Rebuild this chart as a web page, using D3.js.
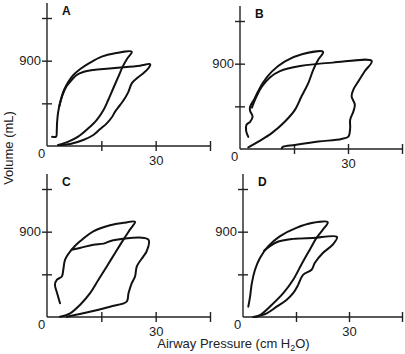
<!DOCTYPE html>
<html><head><meta charset="utf-8">
<script src="https://cdn.jsdelivr.net/npm/d3@7/dist/d3.min.js"></script>
<style>body{margin:0;background:#fff}svg{display:block}</style>
</head><body>
<svg id="c" width="405" height="354"></svg>
<script>
// ---------- data: [pressure cm H2O, volume mL] ----------
const xTicks = [15, 30, 45];
const xTickLabels = {30: "30"};
const yTicks = [450, 900, 1350];
const yTickLabels = {900: "900"};
const panelLetters = ["A", "B", "C", "D"];

const A_loop1 = [[1.4,98],[2.5,98],[2.7,169],[2.8,257],[3.1,362],[3.8,485],[4.7,591],[5.9,678],[7.3,749],[9.1,809],[11.9,879],[15.1,942],[18.8,978],[23.4,995],
  [22.2,925],[20.9,837],[19.7,731],[18.3,609],[16.9,485],[15.6,380],[13.7,274],[11.4,186],[8.6,98],[5.9,46],[3.1,10]];
const A_loop2 = [[3.1,10],[6.4,21],[10.0,63],[12.8,116],[14.6,176],[16.5,239],[17.9,303],[18.8,362],[20.2,433],[21.5,503],[22.5,573],[23.4,661],[24.8,714],[26.6,767],[28.0,820],[28.5,862],
  [25.7,847],[21.1,830],[16.5,816],[12.8,802],[10.0,781],[8.2,749],[6.8,696],[5.4,630],[4.3,540],[3.4,420]];

const B_loop1 = [[2.3,128],[1.7,191],[1.8,255],[2.8,287],[3.5,340],[2.8,404],[2.8,446],[3.9,521],[5.0,606],[6.4,702],[8.9,819],[12.5,925],[17.2,999],[23.1,1024],
  [21.8,946],[20.4,840],[19.0,698],[17.1,556],[15.3,415],[12.5,290],[8.8,167],[5.1,78],[2.3,18]];
const B_loop2 = [[3.3,436],[4.6,556],[6.1,659],[8.3,755],[11.1,822],[16.7,875],[25.8,911],[36.6,928],
  [34.7,822],[32.9,715],[31.5,627],[31.0,556],[31.9,468],[31.5,397],[30.6,308],[30.6,220],[30.1,131],[28.2,106],[21.8,78],[15.3,43],[12.0,24],[11.6,7]];

const C_loop1 = [[3.6,145],[2.8,251],[2.2,339],[2.7,392],[4.1,427],[4.5,498],[5.0,604],[6.8,710],[9.1,798],[12.8,904],[17.4,968],[21.1,993],[24.3,1004],
  [22.9,922],[21.1,816],[18.8,675],[16.5,533],[14.2,392],[11.9,251],[9.1,127],[6.4,39],[3.6,3]];
const C_loop2 = [[6.8,710],[9.1,728],[12.8,763],[15.6,774],[18.3,809],[28.0,816],
  [27.5,692],[26.6,639],[24.8,533],[24.3,427],[23.4,357],[22.5,251],[22.0,162],[17.4,109],[10.0,39],[5.4,3]];

const D_loop1 = [[1.5,109],[2.0,215],[2.5,357],[3.4,498],[4.8,622],[7.1,745],[10.4,851],[15.1,940],[19.8,993],[24.0,1000],
  [22.6,922],[20.8,834],[18.9,710],[16.5,551],[14.2,392],[11.4,251],[8.1,127],[4.8,21],[2.9,0]];
const D_loop2 = [[6.0,700],[9.5,788],[14.2,824],[19.8,834],[26.6,845],
  [25.4,763],[22.6,675],[20.3,569],[19.4,498],[17.0,445],[15.6,339],[14.2,251],[12.3,180],[9.5,109],[6.7,39],[3.4,0]];

const panelLoops = [[A_loop1, A_loop2],[B_loop1, B_loop2],[C_loop1, C_loop2],[D_loop1, D_loop2]];

// ---------- layout ----------
const layout = [
  {ox: 47, oy: 146, w: 163},
  {ox: 240, oy: 149, w: 162},
  {ox: 47, oy: 317, w: 163},
  {ox: 243, oy: 317, w: 159}
];
const H = 128, axisTop = 143;
const font = "'Liberation Sans', Arial, Helvetica, sans-serif";
const svg = d3.select("#c");

layout.forEach((L, i) => {
  const x = d3.scaleLinear().domain([0, 45]).range([L.ox, L.ox + L.w]);
  const y = d3.scaleLinear().domain([0, 1350]).range([L.oy, L.oy - H]);
  const g = svg.append("g");

  // y axis line
  g.append("line").attr("x1", L.ox).attr("x2", L.ox).attr("y1", L.oy).attr("y2", L.oy - axisTop)
    .attr("stroke", "#222").attr("stroke-width", 1.4);
  // x axis line
  g.append("line").attr("x1", L.ox).attr("x2", x(45)).attr("y1", L.oy).attr("y2", L.oy)
    .attr("stroke", "#222").attr("stroke-width", 1.4);

  const ya = d3.axisLeft(y).tickValues(yTicks).tickFormat(d => yTickLabels[d] || "").tickSize(5).tickPadding(2);
  const yg = g.append("g").attr("transform", `translate(${L.ox},0)`).call(ya);
  yg.select(".domain").remove();
  yg.selectAll(".tick line").attr("x1", -5).attr("x2", 5).attr("stroke", "#222").attr("stroke-width", 1.4);
  yg.selectAll(".tick text").attr("x", -6).attr("font-family", font).attr("font-size", 13).attr("fill", "#222");

  const xa = d3.axisBottom(x).tickValues(xTicks).tickFormat(d => xTickLabels[d] || "").tickSize(5);
  const xg = g.append("g").attr("transform", `translate(0,${L.oy})`).call(xa);
  xg.select(".domain").remove();
  xg.selectAll(".tick line").attr("y1", -5).attr("y2", 5).attr("stroke", "#222").attr("stroke-width", 1.4);
  xg.selectAll(".tick text").attr("y", 19).attr("dy", 0).attr("font-family", font).attr("font-size", 13).attr("fill", "#222");

  g.append("text").attr("x", L.ox - 5.5).attr("y", L.oy + 12).attr("text-anchor", "middle")
    .attr("font-family", font).attr("font-size", 13).attr("fill", "#222").text("0");

  g.append("text").attr("x", L.ox + 15).attr("y", L.oy - 131)
    .attr("font-family", font).attr("font-size", 12).attr("font-weight", "bold").attr("fill", "#111").text(panelLetters[i]);

  const line = d3.line().x(d => x(d[0])).y(d => y(d[1])).curve(d3.curveCatmullRom.alpha(0.5));
  panelLoops[i].forEach(loop => {
    g.append("path").attr("d", line(loop)).attr("fill", "none").attr("stroke", "#111")
      .attr("stroke-width", 2).attr("stroke-linejoin", "round").attr("stroke-linecap", "round");
  });
});

svg.append("text").attr("x", 233.5).attr("y", 348).attr("text-anchor", "middle")
  .attr("font-family", font).attr("font-size", 13).attr("fill", "#222")
  .html('Airway Pressure (cm H<tspan font-size="9" dy="3">2</tspan><tspan dy="-3">O)</tspan>');

svg.append("text").attr("transform", "translate(13,148) rotate(-90)").attr("text-anchor", "middle")
  .attr("font-family", font).attr("font-size", 13).attr("fill", "#222").text("Volume (mL)");
</script>
</body></html>
